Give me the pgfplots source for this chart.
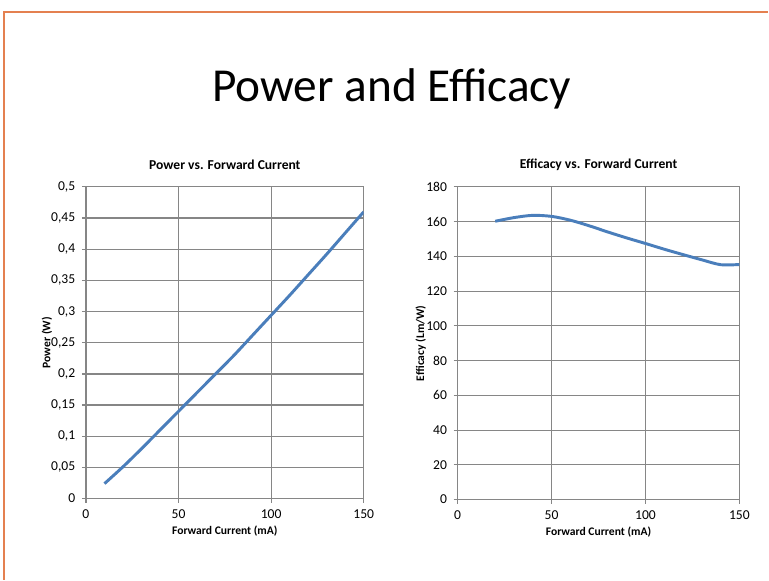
\documentclass[border=0pt]{standalone}
\usepackage{fontspec}
\setmainfont{Carlito}
\usepackage{pgfplots}
\pgfplotsset{compat=1.18}
\definecolor{lineblue}{RGB}{74,126,187}
\definecolor{gridgray}{RGB}{134,134,134}
\definecolor{slideorange}{RGB}{228,128,80}
\pgfplotsset{
  slidestyle/.style={
    scale only axis,
    axis line style={gridgray, line width=0.9pt},
    grid=major,
    major grid style={gridgray, line width=0.9pt},
    tick style={gridgray, line width=0.9pt},
    tick align=outside,
    major tick length=3pt,
    xtick pos=left, ytick pos=left,
    tick label style={font=\fontsize{10.2}{12}\selectfont},
    yticklabel style={xshift=-1.5pt},
    /pgf/number format/assume math mode=true,
    /pgf/number format/use comma,
    every axis title shift=0pt,
    title style={font=\bfseries\fontsize{10.2}{12}\selectfont, at={(0.5,1)}, anchor=center, yshift=16.5pt},
    xlabel style={font=\bfseries\fontsize{8.7}{10}\selectfont, at={(0.5,0)}, anchor=center, yshift=-24pt},
    ylabel style={font=\bfseries\fontsize{8.7}{10}\selectfont},
    xmin=0, xmax=150, xtick={0,50,100,150},
    xticklabel style={yshift=-2pt},
  }
}
\begin{document}
\begin{tikzpicture}[x=0.75pt,y=0.75pt]
\fill[white] (0,0) rectangle (769,580);
\draw[slideorange, line width=0.9pt] (4,0) -- (4,568) -- (769,568);
\node[font=\fontsize{35.5}{40}\selectfont] at (392,491) {Power and Efficacy};
\begin{axis}[slidestyle,
  at={(64.5pt,60.75pt)}, anchor=south west,
  width=208.5pt, height=234pt,
  ymin=0, ymax=0.5, ytick={0,0.05,...,0.5},
  title={Power vs. Forward Current},
  xlabel={Forward Current (mA)},
  ylabel={Power (W)},
  ylabel style={at={(axis description cs:-0.14,0.5)}, anchor=center},
  yticklabel style={/pgf/number format/fixed, /pgf/number format/precision=2},
]
\addplot[lineblue, line width=2.2pt, smooth] coordinates {
(10,0.024) (20,0.051) (30,0.080) (40,0.110) (50,0.140) (60,0.170) (70,0.200)
(80,0.230) (90,0.262) (100,0.294) (110,0.326) (120,0.359) (130,0.392) (140,0.426) (150,0.460)};
\end{axis}
\begin{axis}[slidestyle,
  at={(343.5pt,60pt)}, anchor=south west,
  width=211.5pt, height=234.75pt,
  ymin=0, ymax=180, ytick={0,20,...,180},
  title={Efficacy vs. Forward Current},
  xlabel={Forward Current (mA)},
  ylabel={Efficacy (Lm/W)},
  ylabel style={at={(axis description cs:-0.131,0.5)}, anchor=center},
]
\addplot[lineblue, line width=2.2pt, smooth, tension=0.5] coordinates {
(20,160.2) (30,162.3) (40,163.6) (50,163.0) (60,160.8) (70,157.6) (80,154.0)
(90,150.6) (100,147.4) (110,144.1) (120,141.0) (130,138.0) (140,135.2) (150,135.3)};
\end{axis}
\end{tikzpicture}
\end{document}
